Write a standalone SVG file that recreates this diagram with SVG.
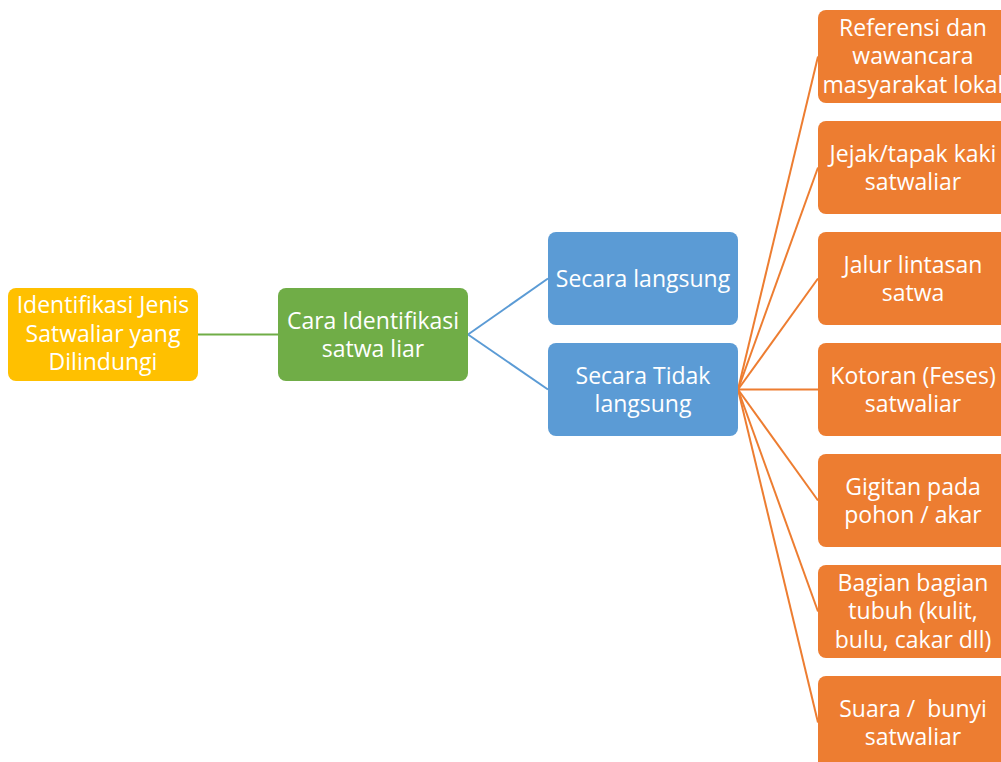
<svg xmlns="http://www.w3.org/2000/svg" width="1001" height="762" viewBox="0 0 1001 762">
<style>
text{font-family:"Open Sans","Liberation Sans",sans-serif;font-size:23px;fill:#fff;text-anchor:middle}
.y{fill:#FFC000}.g{fill:#70AD47}.b{fill:#5B9BD5}.o{fill:#ED7D31}
.cg{stroke:#70AD47;stroke-width:2;fill:none}
.cb{stroke:#5B9BD5;stroke-width:2;fill:none}
.co{stroke:#ED7D31;stroke-width:2;fill:none}
</style>
<rect width="1001" height="762" fill="#fff"/>
<g id="connectors">
<line class="cg" x1="198" y1="334.5" x2="278" y2="334.5"/>
<line class="cb" x1="468" y1="334.5" x2="548" y2="278.5"/>
<line class="cb" x1="468" y1="334.5" x2="548" y2="389.5"/>
<line class="co" x1="738" y1="389.5" x2="818" y2="56.5"/>
<line class="co" x1="738" y1="389.5" x2="818" y2="167.5"/>
<line class="co" x1="738" y1="389.5" x2="818" y2="278.5"/>
<line class="co" x1="738" y1="389.5" x2="818" y2="389.5"/>
<line class="co" x1="738" y1="389.5" x2="818" y2="500.5"/>
<line class="co" x1="738" y1="389.5" x2="818" y2="611.5"/>
<line class="co" x1="738" y1="389.5" x2="818" y2="722.5"/>
</g>
<g id="n-root">
<rect class="y" x="8" y="288" width="190" height="93" rx="8"/>
<text x="103" y="313">Identifikasi Jenis</text>
<text x="103" y="341.5">Satwaliar yang</text>
<text x="103" y="370">Dilindungi</text>
</g>
<g id="n-cara">
<rect class="g" x="278" y="288" width="190" height="93" rx="8"/>
<text x="373" y="328.5">Cara Identifikasi</text>
<text x="373" y="357">satwa liar</text>
</g>
<g id="n-langsung">
<rect class="b" x="548" y="232" width="190" height="93" rx="8"/>
<text x="643" y="287">Secara langsung</text>
</g>
<g id="n-tidak">
<rect class="b" x="548" y="343" width="190" height="93" rx="8"/>
<text x="643" y="383.5">Secara Tidak</text>
<text x="643" y="412">langsung</text>
</g>
<g id="n-referensi">
<rect class="o" x="818" y="10" width="190" height="93" rx="8"/>
<text x="913" y="35.5">Referensi dan</text>
<text x="913" y="64">wawancara</text>
<text x="913" y="92.5">masyarakat lokal</text>
</g>
<g id="n-jejak">
<rect class="o" x="818" y="121" width="190" height="93" rx="8"/>
<text x="913" y="161.5">Jejak/tapak kaki</text>
<text x="913" y="190">satwaliar</text>
</g>
<g id="n-jalur">
<rect class="o" x="818" y="232" width="190" height="93" rx="8"/>
<text x="913" y="272.5">Jalur lintasan</text>
<text x="913" y="301">satwa</text>
</g>
<g id="n-kotoran">
<rect class="o" x="818" y="343" width="190" height="93" rx="8"/>
<text x="913" y="383.5">Kotoran (Feses)</text>
<text x="913" y="412">satwaliar</text>
</g>
<g id="n-gigitan">
<rect class="o" x="818" y="454" width="190" height="93" rx="8"/>
<text x="913" y="494.5">Gigitan pada</text>
<text x="913" y="523">pohon / akar</text>
</g>
<g id="n-bagian">
<rect class="o" x="818" y="565" width="190" height="93" rx="8"/>
<text x="913" y="590.5">Bagian bagian</text>
<text x="913" y="619">tubuh (kulit,</text>
<text x="913" y="647.5">bulu, cakar dll)</text>
</g>
<g id="n-suara">
<rect class="o" x="818" y="676" width="190" height="93" rx="8"/>
<text x="913" y="716.5" style="white-space:pre">Suara /  bunyi</text>
<text x="913" y="745">satwaliar</text>
</g>
</svg>
